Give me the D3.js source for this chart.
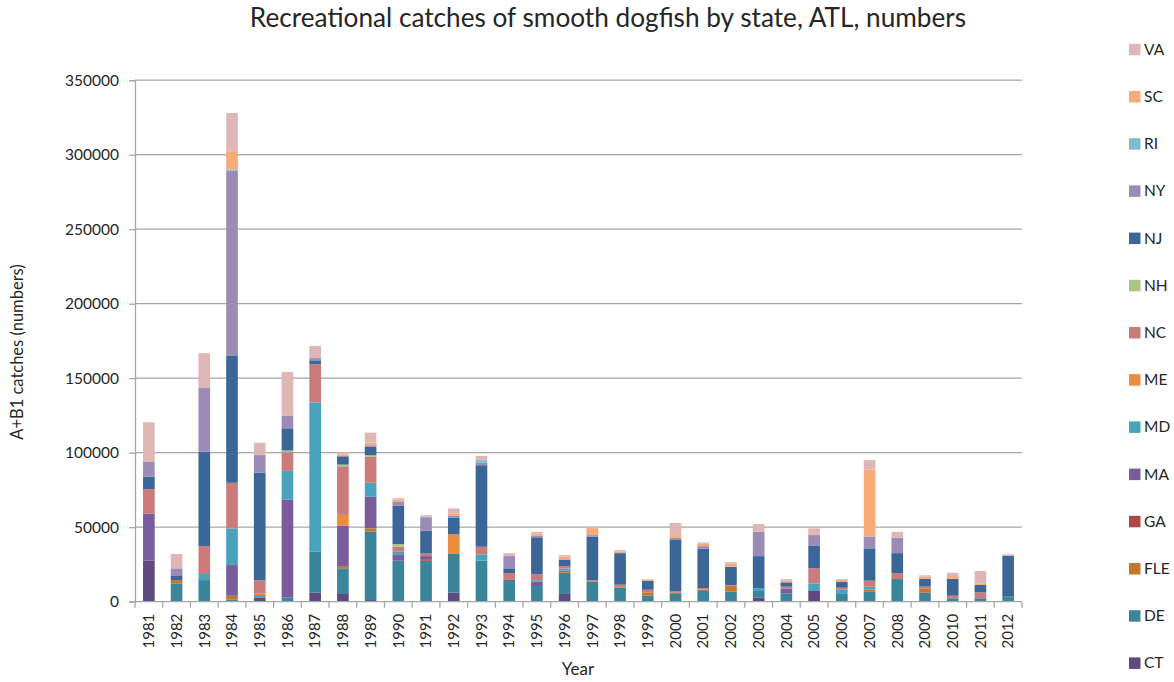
<!DOCTYPE html>
<html>
<head>
<meta charset="utf-8">
<script src="https://cdn.jsdelivr.net/npm/d3@7/dist/d3.min.js"></script>
<style>
  html, body { margin: 0; padding: 0; background: #fff; }
  svg { display: block; font-family: Lato, "Open Sans", sans-serif; }
</style>
</head>
<body>
<svg id="chart" width="1174" height="682"></svg>
<script>
// ---------------- data ----------------
const years = ["1981","1982","1983","1984","1985","1986","1987","1988","1989","1990","1991","1992","1993","1994","1995","1996","1997","1998","1999","2000","2001","2002","2003","2004","2005","2006","2007","2008","2009","2010","2011","2012"];
// stack order bottom -> top
const states = ["CT","DE","FLE","GA","MA","MD","ME","NC","NH","NJ","NY","RI","SC","VA"];
const yTicks = [0, 50000, 100000, 150000, 200000, 250000, 300000, 350000];

const CT  = [27500,0,0,0,2900,0,6000,5200,1100,0,0,6000,0,0,0,5200,0,0,0,0,0,0,2900,0,7200,0,0,0,0,0,0,0];
const DE  = [0,12300,14500,1300,0,2900,27500,17200,45800,27500,27500,26000,27500,13900,10500,14200,13400,9400,4000,5200,7200,6700,4300,5600,0,5200,7000,15200,6000,2300,2300,3400];
const FLE = [0,2200,700,2700,0,0,0,1500,2300,0,0,0,0,0,0,600,0,1000,2300,800,1000,4000,0,0,0,0,1300,0,3000,0,0,0];
const GA  = [0,0,0,0,0,0,0,0,0,0,1000,0,0,0,0,0,0,0,0,0,0,0,0,0,0,0,0,0,0,0,0,0];
const MA  = [31700,0,0,20600,0,65500,0,27000,21200,3800,2100,0,0,1100,2900,900,0,0,0,0,0,0,0,3100,0,0,0,0,0,0,0,0];
const MD  = [0,0,3400,24600,1600,19400,100300,0,9400,2200,0,0,4300,0,1100,1400,0,0,0,0,0,0,1800,0,5100,2800,1800,0,0,0,0,0];
const ME  = [0,0,0,0,800,0,0,7400,0,0,0,13200,0,0,0,0,0,0,0,0,0,0,0,0,0,0,0,0,0,0,0,0];
const NC  = [16300,0,18800,30600,9000,12500,25500,32600,17400,3400,1700,0,5100,4200,3900,1600,1100,1000,1700,1200,1000,500,0,1400,10100,1400,4000,4000,1100,1700,4000,0];
const NH  = [0,0,0,0,0,1200,0,1100,1100,1800,0,0,0,0,0,0,0,0,0,0,0,0,0,0,0,0,0,0,0,0,0,0];
const NJ  = [8300,3200,63200,85500,72400,14900,2700,5600,5600,25600,15400,11100,54700,3200,24800,4400,29100,21200,6100,34600,26300,12300,21600,2900,15400,3800,21700,13400,5300,11400,4900,27300];
const NY  = [10300,4700,42800,124000,11700,8300,1500,0,1100,3000,9000,1600,1600,8200,1300,0,1100,0,0,1100,1800,0,16300,0,6900,0,8000,10300,0,0,0,0];
const RI  = [0,0,0,900,0,0,0,0,0,0,500,0,1800,0,0,0,0,0,0,0,0,0,0,0,0,0,0,0,0,0,0,0];
const SC  = [0,0,0,12100,0,0,0,1300,1800,1300,0,1100,0,0,1300,2000,4700,900,500,1800,1600,2000,0,1100,1100,1500,44900,0,1400,1800,1100,0];
const VA  = [26300,9600,23400,25700,8300,29400,8100,1400,6700,900,900,3600,2900,2000,1100,1000,500,1100,500,8200,900,1100,5200,1100,3400,500,6300,4000,900,2200,8300,1100];

const seriesData = {CT, DE, FLE, GA, MA, MD, ME, NC, NH, NJ, NY, RI, SC, VA};
const colors = {
  CT:"#5E4A7E", DE:"#3A8599", FLE:"#C5762F", GA:"#B04645", MA:"#7A5C9C", MD:"#4AA3BD",
  ME:"#EC8C3E", NC:"#CB7B79", NH:"#ABC585", NJ:"#3C6698", NY:"#9C8BB7", RI:"#7EBBD1",
  SC:"#F8AA79", VA:"#DFB6B6"
};

// ---------------- layout ----------------
const svg = d3.select("#chart");
const plot = {left: 135, right: 1022, top: 80.2, bottom: 601.7};

const table = years.map((yr, i) => {
  const row = {year: yr};
  states.forEach(s => row[s] = seriesData[s][i]);
  return row;
});

const x = d3.scaleBand().domain(years).range([plot.left, plot.right]).paddingInner(0.58).paddingOuter(0.29);
const y = d3.scaleLinear().domain([0, 350000]).range([plot.bottom, plot.top]);

// gridlines
svg.append("g").selectAll("line").data(yTicks.filter(d => d > 0)).join("line")
  .attr("x1", plot.left).attr("x2", plot.right)
  .attr("y1", d => y(d)).attr("y2", d => y(d))
  .attr("stroke", "#A6A6A6").attr("stroke-width", 1.3);

// y axis
const yAxis = d3.axisLeft(y).tickValues(yTicks).tickSize(6).tickPadding(10).tickFormat(d3.format("d"));
const gy = svg.append("g").attr("transform", `translate(${plot.left},0)`).call(yAxis);
gy.select(".domain").attr("stroke", "#A6A6A6").attr("stroke-width", 1.3);
gy.selectAll(".tick line").attr("stroke", "#A6A6A6").attr("stroke-width", 1.3);
gy.selectAll(".tick text").attr("font-size", 15.5).attr("fill", "#262626").attr("font-family", "Lato, sans-serif");

// bars
const stack = d3.stack().keys(states);
const stacked = stack(table);
svg.append("g").selectAll("g").data(stacked).join("g")
  .attr("fill", d => colors[d.key])
  .selectAll("rect").data(d => d).join("rect")
  .attr("x", d => x(d.data.year))
  .attr("width", x.bandwidth())
  .attr("y", d => y(d[1]))
  .attr("height", d => Math.max(0, y(d[0]) - y(d[1])));

// x axis (ticks between categories, Excel style)
const xAxis = d3.axisBottom(x).tickSize(0).tickPadding(0);
const gx = svg.append("g").attr("transform", `translate(0,${plot.bottom})`).call(xAxis);
gx.select(".domain").remove();
gx.selectAll(".tick text")
  .attr("transform", "rotate(-90)")
  .attr("text-anchor", "end")
  .attr("dy", "0.35em")
  .attr("x", -12).attr("y", 0)
  .attr("font-size", 15)
  .attr("fill", "#262626")
  .attr("font-family", "Lato, sans-serif");
svg.append("line").attr("x1", plot.left).attr("x2", plot.right)
  .attr("y1", plot.bottom).attr("y2", plot.bottom)
  .attr("stroke", "#A6A6A6").attr("stroke-width", 1.3);
const bounds = d3.range(years.length + 1).map(i => plot.left + i * x.step());
svg.append("g").selectAll("line").data(bounds).join("line")
  .attr("x1", d => d).attr("x2", d => d)
  .attr("y1", plot.bottom).attr("y2", plot.bottom + 6)
  .attr("stroke", "#A6A6A6").attr("stroke-width", 1.3);

// titles
svg.append("text").attr("x", 608).attr("y", 27).attr("text-anchor", "middle")
  .attr("font-size", 26.2).attr("fill", "#262626")
  .text("Recreational catches of smooth dogfish by state, ATL, numbers");
svg.append("text").attr("x", 578).attr("y", 675).attr("text-anchor", "middle")
  .attr("font-size", 17).attr("fill", "#262626").text("Year");
svg.append("text").attr("transform", "translate(23,352) rotate(-90)").attr("text-anchor", "middle")
  .attr("font-size", 16.5).attr("fill", "#262626").text("A+B1 catches (numbers)");

// legend (reverse stack order, top = VA)
const legendStates = states.slice().reverse();
const lg = svg.append("g").selectAll("g").data(legendStates).join("g")
  .attr("transform", (d, i) => `translate(1129,${49.3 + i * 47.2})`);
lg.append("rect").attr("x", 0).attr("y", -5.5).attr("width", 11.5).attr("height", 11.5)
  .attr("fill", d => colors[d]);
lg.append("text").attr("x", 15).attr("y", 0).attr("dy", "0.35em")
  .attr("font-size", 15.5).attr("fill", "#262626").text(d => d);
</script>
</body>
</html>
